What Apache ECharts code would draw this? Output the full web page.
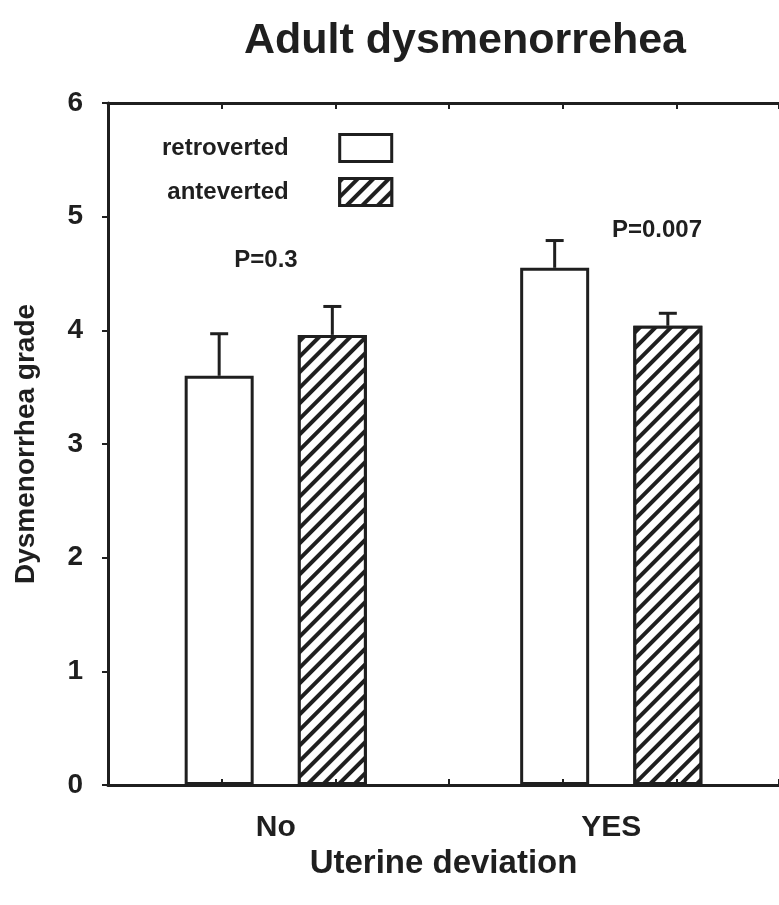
<!DOCTYPE html>
<html>
<head>
<meta charset="utf-8" />
<title>Adult dysmenorrehea</title>
<style>
  html, body { margin: 0; padding: 0; background: #fff; }
  #chart { width: 779px; height: 905px; }
</style>
</head>
<body>
<div id="chart"></div>
<script src="https://cdn.jsdelivr.net/npm/echarts@6/dist/echarts.min.js"></script>
<script>
// data
var categories = ['No', 'YES'];
var seriesNames = ['retroverted', 'anteverted'];
var retroverted = [3.6, 4.55];
var anteverted = [3.96, 4.04];
var retroErrTop = [3.97, 4.79];
var anteErrTop = [4.21, 4.15];
var pLabels = ['P=0.3', 'P=0.007'];
var yTicks = [0, 1, 2, 3, 4, 5, 6];

var ink = '#1f1f1f';
var fontFam = '"Liberation Sans", Arial, sans-serif';
var barW = 69;
var barGapPct = 0.64;

var myChart = echarts.init(document.getElementById('chart'));

// error bar (upper whisker only, the lower half is hidden inside the bar)
function errorBar(side) {
  return function (params, api) {
    var cat = api.value(0);
    var mid = api.coord([cat, api.value(1)]);
    var top = api.coord([cat, api.value(2)]);
    var off = side * (barW + barW * barGapPct) / 2;
    var x = mid[0] + off;
    var cap = 9;
    return {
      type: 'group',
      children: [{
        type: 'line',
        shape: { x1: x, y1: mid[1], x2: x, y2: top[1] },
        style: { stroke: ink, lineWidth: 3 }
      }, {
        type: 'line',
        shape: { x1: x - cap, y1: top[1], x2: x + cap, y2: top[1] },
        style: { stroke: ink, lineWidth: 3 }
      }]
    };
  };
}

function errData(vals, tops) {
  var out = [];
  for (var i = 0; i < vals.length; i++) out.push([i, vals[i], tops[i]]);
  return out;
}

var hatch = {
  symbol: 'rect',
  symbolSize: 1,
  color: ink,
  backgroundColor: '#fff',
  dashArrayX: [1, 0],
  dashArrayY: [4, 7],
  rotation: -Math.PI / 4
};

var option = {
  backgroundColor: '#fff',
  animation: false,
  title: {
    text: 'Adult dysmenorrehea',
    left: 460,
    textAlign: 'center',
    top: 15,
    textStyle: { fontFamily: fontFam, fontSize: 43, fontWeight: 'bold', color: ink }
  },
  legend: {
    data: seriesNames,
    orient: 'vertical',
    align: 'right',
    icon: 'rect',
    left: 157,
    top: 128,
    itemWidth: 52,
    itemHeight: 27,
    itemGap: 14,
    itemStyle: { borderColor: ink, borderWidth: 3 },
    textStyle: { fontFamily: fontFam, fontSize: 24, fontWeight: 'bold', color: ink, padding: [0, 46, 0, 0] }
  },
  grid: { left: 108, right: 0, top: 103, bottom: 120 },
  xAxis: [{
    type: 'category',
    data: categories,
    name: 'Uterine deviation',
    nameLocation: 'middle',
    nameGap: 62,
    nameTextStyle: { fontFamily: fontFam, fontSize: 33, fontWeight: 'bold', color: ink },
    axisLine: { lineStyle: { color: ink, width: 3 } },
    axisTick: { show: false },
    axisLabel: { margin: 28, fontFamily: fontFam, fontSize: 30, fontWeight: 'bold', color: ink }
  }, {
    // small inner ticks along the bottom, drawn over the bars
    type: 'value', position: 'bottom', min: 0, max: 5.9, interval: 1, z: 5,
    axisLine: { show: false },
    axisTick: { show: true, inside: true, length: 6, lineStyle: { color: ink, width: 2 } },
    axisLabel: { show: false }, splitLine: { show: false }
  }, {
    // top frame line with inner ticks
    type: 'value', position: 'top', min: 0, max: 5.9, interval: 1,
    axisLine: { show: true, onZero: false, lineStyle: { color: ink, width: 3 } },
    axisTick: { show: true, inside: true, length: 6, lineStyle: { color: ink, width: 2 } },
    axisLabel: { show: false }, splitLine: { show: false }
  }],
  yAxis: {
    type: 'value',
    min: yTicks[0],
    max: yTicks[yTicks.length - 1],
    interval: 1,
    name: 'Dysmenorrhea grade',
    nameLocation: 'middle',
    nameGap: 68,
    nameTextStyle: { fontFamily: fontFam, fontSize: 28, fontWeight: 'bold', color: ink },
    axisLine: { show: true, lineStyle: { color: ink, width: 3 } },
    axisTick: { show: true, length: 6, lineStyle: { color: ink, width: 2 } },
    axisLabel: { margin: 25, fontFamily: fontFam, fontSize: 28, fontWeight: 'bold', color: ink },
    splitLine: { show: false }
  },
  series: [{
    name: seriesNames[0],
    type: 'bar',
    xAxisIndex: 0,
    barWidth: barW,
    barGap: (barGapPct * 100) + '%',
    itemStyle: { color: '#fff', borderColor: ink, borderWidth: 3 },
    data: retroverted
  }, {
    name: seriesNames[1],
    type: 'bar',
    xAxisIndex: 0,
    barWidth: barW,
    barGap: (barGapPct * 100) + '%',
    itemStyle: { color: '#fff', borderColor: ink, borderWidth: 3, decal: hatch },
    data: anteverted
  }, {
    type: 'custom',
    xAxisIndex: 0,
    renderItem: errorBar(-1),
    z: 3,
    data: errData(retroverted, retroErrTop)
  }, {
    type: 'custom',
    xAxisIndex: 0,
    renderItem: errorBar(1),
    z: 3,
    data: errData(anteverted, anteErrTop)
  }],
  graphic: [{
    type: 'text', x: 266, y: 260,
    style: { text: pLabels[0], fill: ink, font: 'bold 24px ' + fontFam, align: 'center', verticalAlign: 'middle' }
  }, {
    type: 'text', x: 657, y: 230,
    style: { text: pLabels[1], fill: ink, font: 'bold 24px ' + fontFam, align: 'center', verticalAlign: 'middle' }
  }]
};

myChart.setOption(option);
</script>
</body>
</html>
